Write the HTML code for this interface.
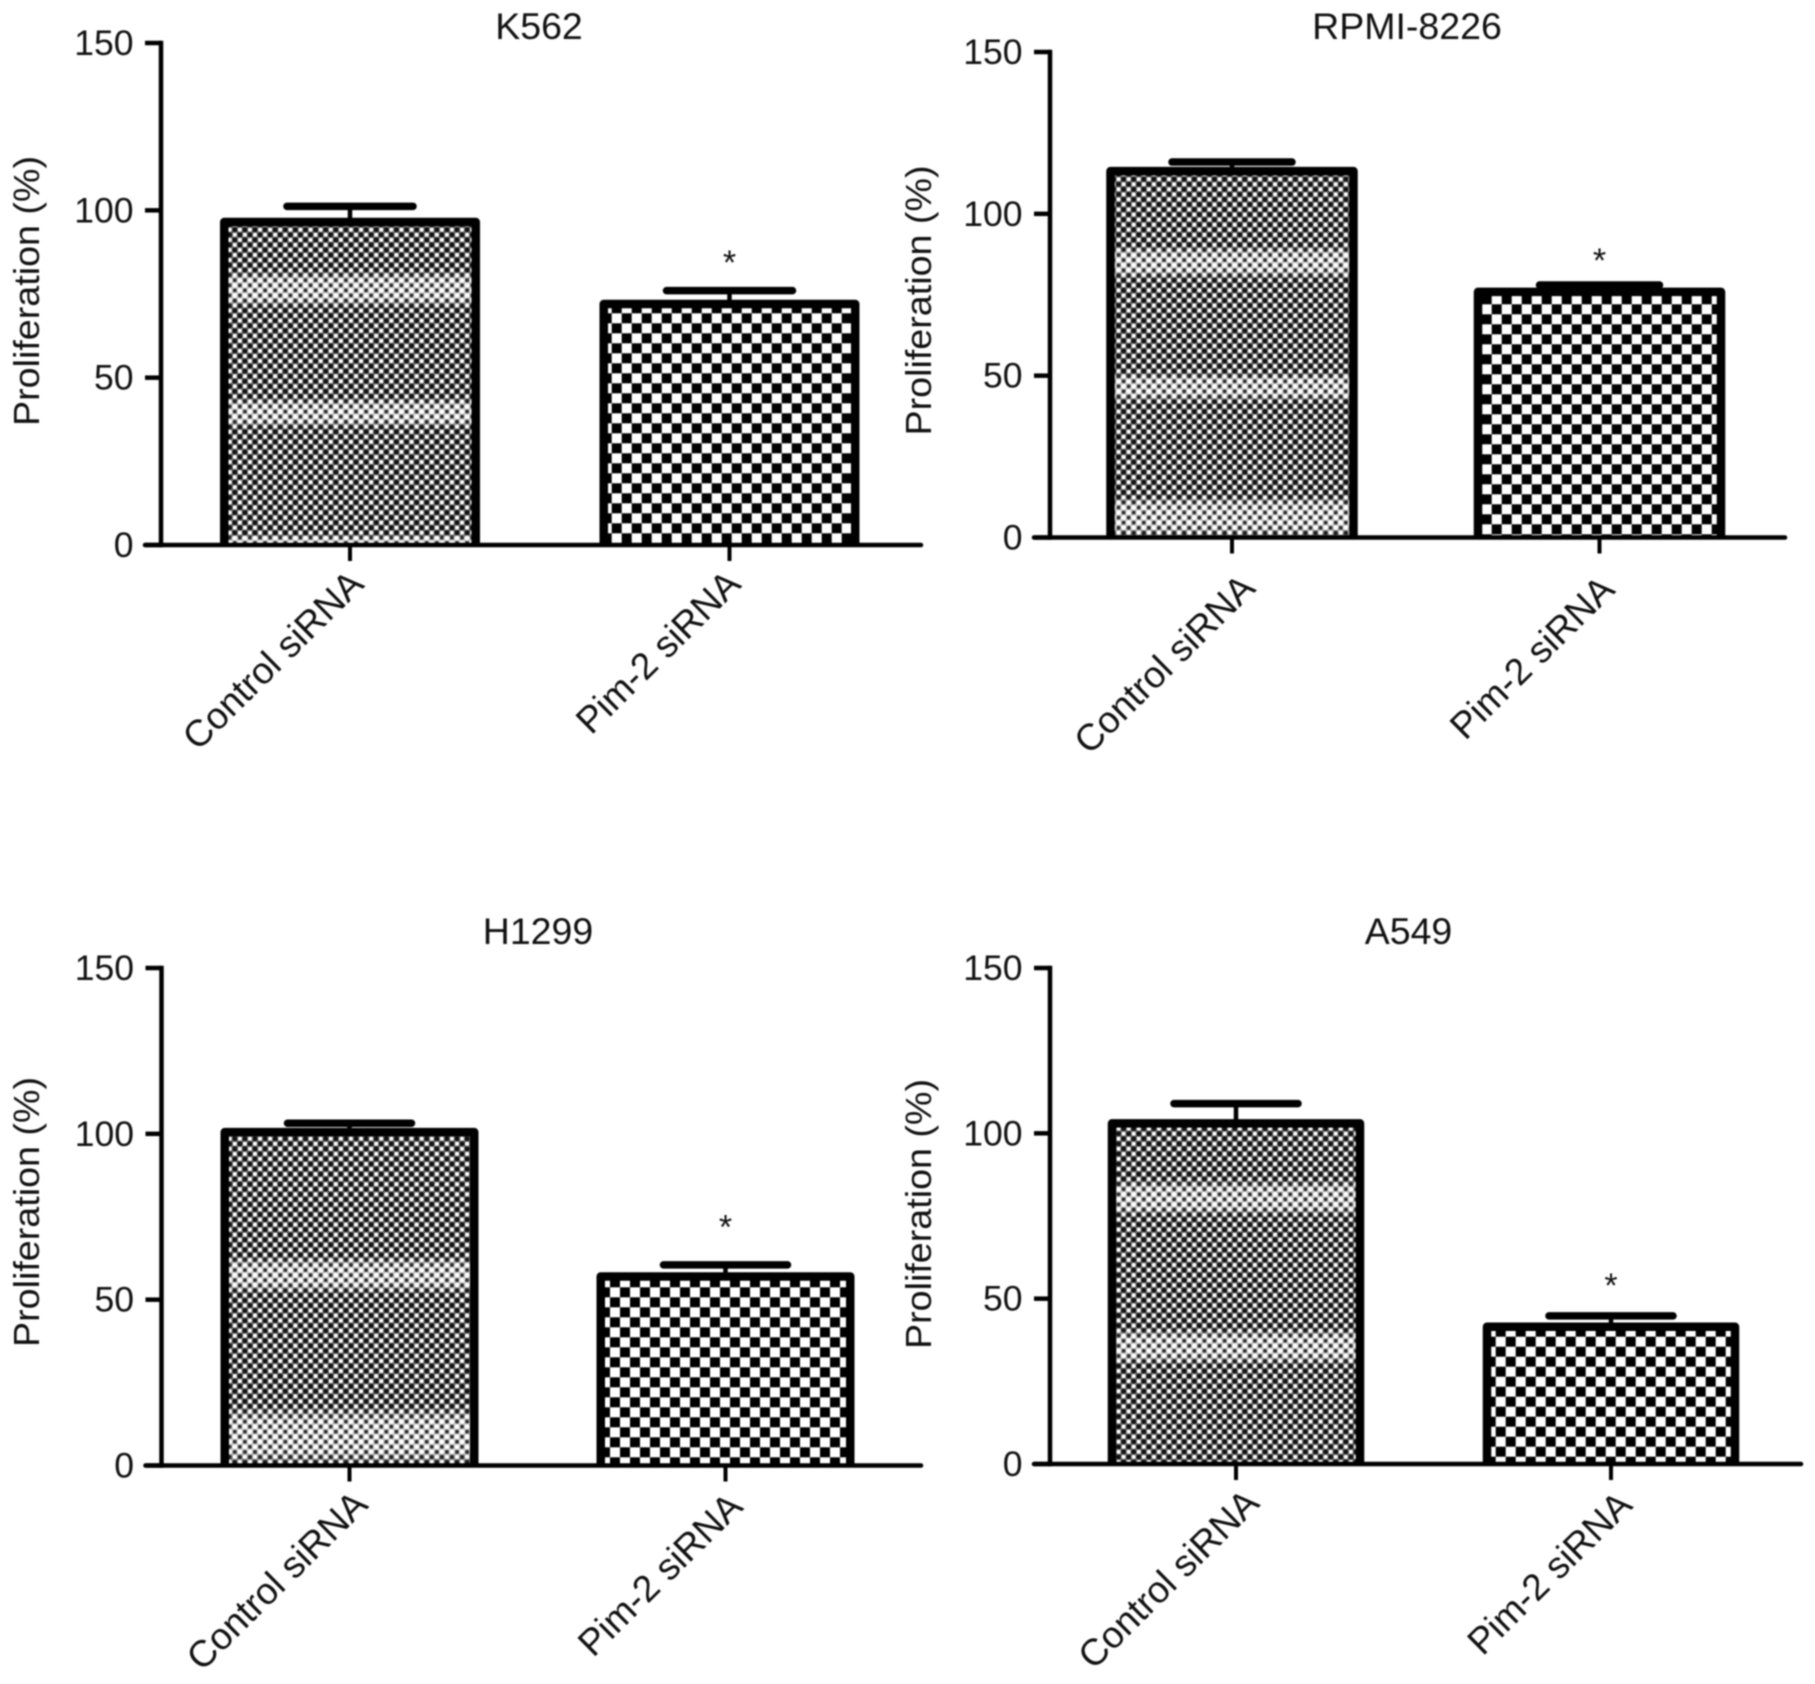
<!DOCTYPE html>
<html lang="en">
<head>
<meta charset="utf-8">
<title>Proliferation after Pim-2 siRNA</title>
<style>
html,body{margin:0;padding:0;background:#fff;}
body{width:1815px;height:1684px;overflow:hidden;}
svg{display:block;filter:blur(0.7px);}
text{font-family:"Liberation Sans",sans-serif;fill:#111;}
</style>
</head>
<body>
<svg id="fig" xmlns="http://www.w3.org/2000/svg" width="1815" height="1684" viewBox="0 0 1815 1684">
<defs id="defs">
<pattern id="denseDots" width="10.1" height="10.1" patternUnits="userSpaceOnUse">
<rect width="10.1" height="10.1" fill="#6a6a6a"/>
<circle cx="2.5" cy="2.5" r="2.1" fill="#fff"/>
<circle cx="7.55" cy="7.55" r="2.1" fill="#fff"/>
<circle cx="7.55" cy="2.5" r="2.5" fill="#111"/>
<circle cx="2.5" cy="7.55" r="2.5" fill="#111"/>
</pattern>
<pattern id="lightDots" width="10.1" height="10.1" patternUnits="userSpaceOnUse">
<rect width="10.1" height="10.1" fill="#c4c4c4"/>
<circle cx="2.5" cy="2.5" r="2.4" fill="#fff"/>
<circle cx="7.55" cy="7.55" r="2.4" fill="#fff"/>
<circle cx="7.55" cy="2.5" r="1.9" fill="#2a2a2a"/>
<circle cx="2.5" cy="7.55" r="1.9" fill="#2a2a2a"/>
</pattern>
<linearGradient id="bandGrad" x1="0" y1="0" x2="0" y2="1">
<stop offset="0" stop-color="#000"/>
<stop offset="0.25" stop-color="#fff"/>
<stop offset="0.75" stop-color="#fff"/>
<stop offset="1" stop-color="#000"/>
</linearGradient>
<mask id="bandMask" maskContentUnits="objectBoundingBox">
<rect width="1" height="1" fill="url(#bandGrad)"/>
</mask>
</defs>
</svg>
<script>
const panelTitles = ["K562", "RPMI-8226", "H1299", "A549"];
const categories = ["Control siRNA", "Pim-2 siRNA"];
const yTicks = [0, 50, 100, 150];
const yAxisMax = 150;
const yAxisTitle = "Proliferation (%)";
const controlValues = [96.5, 113.2, 100.5, 103];
const pimValues = [72, 75.9, 57, 41.5];
const controlErrors = [4.7, 2.8, 2.7, 6];
const pimErrors = [4, 2.1, 3.5, 3.3];
const significanceValues = [85.5, 86.7, 73, 55];
const significanceMark = "*";
const controlLightBands = [
  [[71, 82], [35, 44], [0, 3]],
  [[80, 90], [42, 51], [0, 13]],
  [[52, 63], [0, 18]],
  [[75, 86], [30, 41]]
];

const NS = "http://www.w3.org/2000/svg";
const fig = document.getElementById("fig");
const defs = document.getElementById("defs");

function make(tag, attrs, parent) {
  const el = document.createElementNS(NS, tag);
  for (const k in attrs) el.setAttribute(k, attrs[k]);
  parent.appendChild(el);
  return el;
}

function checkerFor(i, f) {
  const id = "checker" + i;
  const p = make("pattern", {
    id: id, width: 20, height: 20, patternUnits: "userSpaceOnUse",
    patternTransform: "translate(" + (f.checkX - 5) + " " + (f.checkY - 5) + ")"
  }, defs);
  make("rect", {width: 20, height: 20, fill: "#fff"}, p);
  make("rect", {x: 0, y: 0, width: 10, height: 10, fill: "#000"}, p);
  make("rect", {x: 10, y: 10, width: 10, height: 10, fill: "#000"}, p);
  return "url(#" + id + ")";
}

function drawPanel(i, f) {
  const yScale = v => f.y0 - v * (f.y0 - f.yTop) / yAxisMax;
  const xScale = c => f.x0 + c * f.step;

  const g = make("g", {}, fig);
  
  

  const title = make("text", {x: f.titleX, y: f.titleY, "font-size": 37.5, "text-anchor": "middle"}, g);
  title.textContent = panelTitles[i];
  
  

  const yTitle = make("text", {
    transform: "translate(" + f.yTitleX + "," + f.yTitleY + ") rotate(-90)",
    "font-size": 36, "text-anchor": "middle", textLength: 270, lengthAdjust: "spacingAndGlyphs"
  }, g);
  yTitle.textContent = yAxisTitle;
  
  

  const series = [
    {value: controlValues[i], err: controlErrors[i], fill: "url(#denseDots)", name: "control"},
    {value: pimValues[i], err: pimErrors[i], fill: checkerFor(i, f), name: "pim2"}
  ];

  series.forEach((s, c) => {
    const cx = xScale(c);
    const half = f.barW / 2;
    const topY = yScale(s.value);
    const capY = yScale(s.value + s.err);

    const stem = make("line", {x1: cx, x2: cx, y1: capY, y2: topY, stroke: "#000", "stroke-width": 4.5}, g);
    
    

    const cap = make("line", {x1: cx - f.capHalf, x2: cx + f.capHalf, y1: capY, y2: capY, stroke: "#000", "stroke-width": 7.5, "stroke-linecap": "round"}, g);
    
    

    const fillRect = make("rect", {x: cx - half, y: topY, width: f.barW, height: f.y0 - topY, fill: s.fill}, g);
    
    

    if (c === 0) {
      controlLightBands[i].forEach(b => {
        const band = make("rect", {
          x: cx - half, y: yScale(b[1]), width: f.barW,
          height: yScale(b[0]) - yScale(b[1]), fill: "url(#lightDots)", mask: "url(#bandMask)"
        }, g);
        
        
      });
    }

    const outline = make("path", {
      d: "M" + (cx - half) + " " + f.y0 + "V" + topY + "H" + (cx + half) + "V" + f.y0,
      fill: "none", stroke: "#000", "stroke-width": 8.5, "stroke-linejoin": "round"
    }, g);
    
    

    const tick = make("line", {x1: cx, x2: cx, y1: f.y0, y2: f.y0 + 16, stroke: "#000", "stroke-width": 4}, g);
    
    

    const lx = cx + f.labelDx[c];
    const ly = f.y0 + f.labelDy[c];
    const label = make("text", {
      transform: "translate(" + lx + "," + ly + ") rotate(-44.7)",
      "font-size": 37.2, "text-anchor": "end"
    }, g);
    label.textContent = categories[c];
    
    
  });

  const star = make("text", {x: xScale(1), y: yScale(significanceValues[i]) + 15, "font-size": 34, "text-anchor": "middle", fill: "#333"}, g);
  star.textContent = significanceMark;
  
  

  const yAxis = make("line", {x1: f.axisX, x2: f.axisX, y1: yScale(yAxisMax), y2: f.y0, stroke: "#000", "stroke-width": 4.5, "stroke-linecap": "square"}, g);
  
  

  const xAxis = make("line", {x1: f.axisX - 16, x2: f.axisEnd, y1: f.y0, y2: f.y0, stroke: "#000", "stroke-width": 4.5, "stroke-linecap": "round"}, g);
  
  

  yTicks.forEach(t => {
    const ty = yScale(t);
    const tk = make("line", {x1: f.axisX - 16, x2: f.axisX, y1: ty, y2: ty, stroke: "#000", "stroke-width": 4.5}, g);
    
    

    const tl = make("text", {x: f.axisX - 27.5, y: ty + 12, "font-size": 35.5, "text-anchor": "end"}, g);
    tl.textContent = t;
    
    
  });
}

drawPanel(0, {axisX: 161, axisEnd: 921, y0: 545, yTop: 43, x0: 350, step: 379.5, barW: 251.5, capHalf: 63, titleX: 539, titleY: 39, yTitleX: 39, yTitleY: 291, labelDx: [15.5, 13], labelDy: [41, 41], checkX: 6.7, checkY: 18.3});
drawPanel(1, {axisX: 1050, axisEnd: 1785, y0: 537.5, yTop: 52, x0: 1232, step: 367.5, barW: 243, capHalf: 60, titleX: 1407, titleY: 39, yTitleX: 931, yTitleY: 300.5, labelDx: [25, 17], labelDy: [52.5, 54], checkX: 16.7, checkY: 9.3});
drawPanel(2, {axisX: 161.5, axisEnd: 921, y0: 1465.5, yTop: 968, x0: 349.5, step: 376, barW: 249.5, capHalf: 62, titleX: 538, titleY: 944, yTitleX: 39, yTitleY: 1212, labelDx: [20, 19], labelDy: [41, 43], checkX: 15, checkY: 2.3});
drawPanel(3, {axisX: 1050, axisEnd: 1801, y0: 1464, yTop: 968, x0: 1236, step: 375, barW: 248, capHalf: 62, titleX: 1408.5, titleY: 944, yTitleX: 931, yTitleY: 1214, labelDx: [25, 23], labelDy: [41, 43], checkX: 0.7, checkY: 11.7});
</script>
</body>
</html>
